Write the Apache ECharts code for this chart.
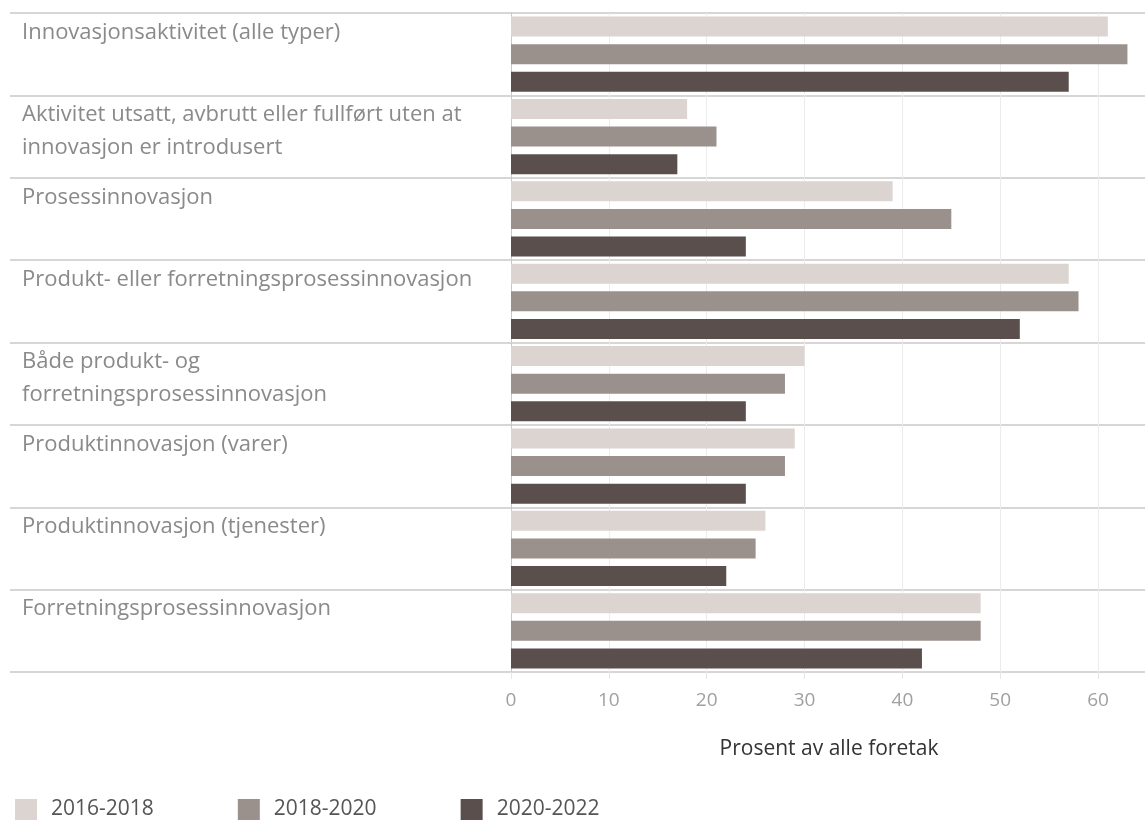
<!DOCTYPE html>
<html>
<head>
<meta charset="utf-8">
<script src="https://cdn.jsdelivr.net/npm/echarts@6/dist/echarts.min.js"></script>
<style>
  html, body { margin: 0; padding: 0; background: #fff; }
  #main { width: 1145px; height: 823px; }
</style>
</head>
<body>
<div id="main"></div>
<script>
// kategorier (linjeskift der originalen bryter teksten)
const categories = [
  "Innovasjonsaktivitet (alle typer)",
  "Aktivitet utsatt, avbrutt eller fullført uten at\ninnovasjon er introdusert",
  "Prosessinnovasjon",
  "Produkt- eller forretningsprosessinnovasjon",
  "Både produkt- og\nforretningsprosessinnovasjon",
  "Produktinnovasjon (varer)",
  "Produktinnovasjon (tjenester)",
  "Forretningsprosessinnovasjon"
];
const periods = ["2016-2018", "2018-2020", "2020-2022"];
const values2016 = [61, 18, 39, 57, 30, 29, 26, 48];
const values2018 = [63, 21, 45, 58, 28, 28, 25, 48];
const values2020 = [57, 17, 24, 52, 24, 24, 22, 42];
const xTicks = [0, 10, 20, 30, 40, 50, 60];
const colors = ["#dcd4d1", "#9a908c", "#5a4f4c"];

const gridTop = 13;
const gridBottom = 151;
const rowHeight = (823 - gridTop - gridBottom) / categories.length;
const font = "Open Sans";

var myChart = echarts.init(document.getElementById("main"));

var option = {
  animation: false,
  textStyle: { fontFamily: font },
  grid: [
    // stolper
    { left: 511, right: -2, top: gridTop, bottom: gridBottom, outerBoundsMode: "none" },
    // skillelinjer over hele bredden
    { left: 10, right: 0, top: gridTop, bottom: gridBottom, outerBoundsMode: "none" },
    // etiketter, forskjøvet en halv rad opp så de havner øverst i raden
    {
      left: 10, right: 0,
      top: gridTop - rowHeight / 2 + 3,
      bottom: gridBottom + rowHeight / 2 - 3,
      outerBoundsMode: "none"
    }
  ],
  legend: {
    data: periods,
    left: 15,
    top: 799,
    padding: 0,
    icon: "rect",
    itemWidth: 22,
    itemHeight: 21,
    itemGap: 84,
    textStyle: { fontSize: 21, color: "#555", fontFamily: font, padding: [0, 0, 0, 9] }
  },
  xAxis: [
    {
      gridIndex: 0,
      type: "value",
      min: 0,
      max: 65,
      interval: 10,
      axisLine: { show: false },
      axisTick: { show: true, length: 7, lineStyle: { color: "#e6e6e6" } },
      splitLine: { show: true, lineStyle: { color: "#ececec" } },
      axisLabel: {
        showMaxLabel: false,
        margin: 19,
        fontSize: 19,
        color: "#a0a0a0",
        formatter: (v) => (xTicks.includes(v) ? String(v) : "")
      },
      name: "Prosent av alle foretak",
      nameLocation: "middle",
      nameGap: 67,
      nameTextStyle: { fontSize: 21, color: "#333" }
    },
    { gridIndex: 1, type: "value", show: false, min: 0, max: 1 },
    { gridIndex: 2, type: "value", show: false, min: 0, max: 1 }
  ],
  yAxis: [
    {
      gridIndex: 0,
      type: "category",
      inverse: true,
      data: categories,
      axisLine: { show: true, lineStyle: { color: "#c8c8c8" } },
      axisTick: { show: false },
      axisLabel: { show: false },
      splitLine: { show: false }
    },
    {
      gridIndex: 1,
      type: "category",
      inverse: true,
      data: categories,
      axisLine: { show: false },
      axisTick: { show: false },
      axisLabel: { show: false },
      splitLine: { show: true, lineStyle: { color: "#c8c8c8", width: 1.5 } }
    },
    {
      gridIndex: 2,
      type: "category",
      inverse: true,
      data: categories,
      axisLine: { show: false },
      axisTick: { show: false },
      splitLine: { show: false },
      axisLabel: {
        interval: 0,
        margin: -12,
        align: "left",
        verticalAlign: "top",
        lineHeight: 33,
        fontSize: 22,
        color: "#8a8a8a"
      }
    }
  ],
  series: [
    { name: periods[0], type: "bar", data: values2016 },
    { name: periods[1], type: "bar", data: values2018 },
    { name: periods[2], type: "bar", data: values2020 }
  ].map((s, i) => ({
    ...s,
    xAxisIndex: 0,
    yAxisIndex: 0,
    barWidth: 20,
    barGap: "38%",
    itemStyle: { color: colors[i] }
  }))
};

myChart.setOption(option);
</script>
</body>
</html>
